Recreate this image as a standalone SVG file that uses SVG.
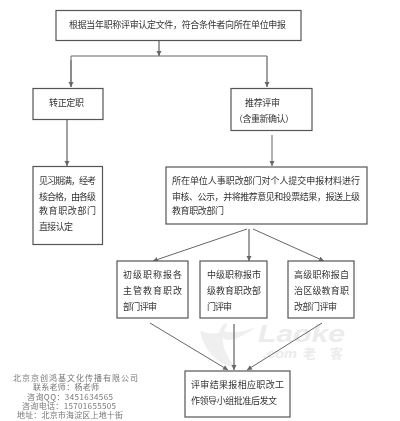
<svg xmlns="http://www.w3.org/2000/svg" width="400" height="421" viewBox="0 0 400 421">
<style>
.box{fill:#fff;stroke:#555;stroke-width:1.2}
.t{font-family:"Noto Sans CJK SC","Liberation Sans",sans-serif;font-size:9px;fill:#333}
.c{font-family:"Noto Sans CJK SC","Liberation Sans",sans-serif;font-size:8px;fill:#777}
.l{fill:none;stroke:#666;stroke-width:1}
.g{fill:none;stroke:#888;stroke-width:1.6}
.wm{font-family:"Liberation Sans",sans-serif;font-weight:bold;font-style:italic;fill:#ececec}
.wc{font-family:"Noto Sans CJK SC",sans-serif;font-weight:bold;fill:#ececec}
</style>
<defs>
<marker id="a" markerUnits="userSpaceOnUse" markerWidth="6" markerHeight="6" refX="5" refY="3" orient="auto"><path d="M0 0.5L5 3L0 5.5z" fill="#666"/></marker>
<filter id="s" x="-5%" y="-5%" width="110%" height="110%"><feGaussianBlur stdDeviation="0.3"/></filter>
</defs>
<rect width="400" height="421" fill="#fff"/>
<g id="watermark">
<path d="M200 331C204 350 216 364 236 368C226 356 222 346 223 338C230 343 240 338 256 327C244 332 232 334 224 331C226 327 228 325 226 323C222 325 220 329 219 333C212 334 206 333 200 331Z" fill="#efefef"/>
<text class="wm" x="258" y="342" font-size="24" textLength="87" lengthAdjust="spacingAndGlyphs">Laoke</text>
<text class="wm" x="263" y="358" font-size="12" textLength="34" lengthAdjust="spacingAndGlyphs">.com</text>
<text class="wc" x="303" y="358" font-size="13" textLength="40">老客</text>
</g>
<g id="connectors" filter="url(#s)">
<path class="g" d="M159 40V56" marker-end="url(#a)"/>
<path class="l" d="M71 87V56H267"/>
<path class="l" d="M71 60V87" marker-end="url(#a)"/>
<path class="g" d="M267 56V87" marker-end="url(#a)"/>
<path class="g" d="M67 119V166" marker-end="url(#a)"/>
<path class="l" d="M272 135V166" marker-end="url(#a)"/>
<path class="l" d="M247 229L153 261" marker-end="url(#a)"/>
<path class="g" d="M249 229V261" marker-end="url(#a)"/>
<path class="l" d="M253 229L324 261" marker-end="url(#a)"/>
<path class="l" d="M150 323L228 370" marker-end="url(#a)"/>
<path class="g" d="M234 324V370" marker-end="url(#a)"/>
<path class="l" d="M322 323L247 370" marker-end="url(#a)"/>
</g>
<g filter="url(#s)">
<g id="n1"><rect class="box" x="56" y="10.500" width="245" height="30"/>
<text class="t" x="69" y="28" textLength="217">根据当年职称评审认定文件，符合条件者向所在单位申报</text></g>
<g id="n2"><rect class="box" x="33" y="88.500" width="70" height="31"/>
<text class="t" x="49" y="106" textLength="35">转正定职</text></g>
<g id="n3"><rect class="box" x="231" y="88.500" width="81" height="42"/>
<text class="t" x="245" y="106" textLength="35">推荐评审</text>
<text class="t" x="234" y="122" textLength="60">（含重新确认）</text></g>
<g id="n4"><rect class="box" x="33" y="166.500" width="69.500" height="78"/>
<text class="t" x="39" y="184" textLength="57">见习期满，经考</text>
<text class="t" x="39" y="200" textLength="57">核合格，由各级</text>
<text class="t" x="39" y="214" textLength="57">教育职改部门</text>
<text class="t" x="39" y="230" textLength="34">直接认定</text></g>
<g id="n5"><rect class="box" x="166" y="167" width="201" height="57"/>
<text class="t" x="172" y="184" textLength="188">所在单位人事职改部门对个人提交申报材料进行</text>
<text class="t" x="172" y="200" textLength="188">审核、公示，并将推荐意见和投票结果，报送上级</text>
<text class="t" x="172" y="214" textLength="52">教育职改部门</text></g>
<g id="n6"><rect class="box" x="117" y="261" width="71" height="57"/>
<text class="t" x="123" y="278" textLength="59">初级职称报各</text>
<text class="t" x="123" y="294" textLength="59">主管教育职改</text>
<text class="t" x="123" y="310" textLength="34">部门评审</text></g>
<g id="n7"><rect class="box" x="200" y="261" width="67" height="57"/>
<text class="t" x="207" y="278" textLength="54">中级职称报市</text>
<text class="t" x="207" y="294" textLength="54">级教育职改部</text>
<text class="t" x="207" y="310" textLength="25">门评审</text></g>
<g id="n8"><rect class="box" x="288" y="261" width="66" height="57"/>
<text class="t" x="294" y="278" textLength="55">高级职称报自</text>
<text class="t" x="294" y="294" textLength="55">治区级教育职</text>
<text class="t" x="294" y="310" textLength="43">改部门评审</text></g>
<g id="n9"><rect class="box" x="185" y="371" width="105" height="46"/>
<text class="t" x="191" y="388" textLength="93">评审结果报相应职改工</text>
<text class="t" x="191" y="404" textLength="86">作领导小组批准后发文</text></g>
<g id="contact">
<text class="c" x="13" y="381" textLength="125">北京京创鸿基文化传播有限公司</text>
<text class="c" x="33" y="390" textLength="66">联系老师：杨老师</text>
<text class="c" x="27" y="399.500" textLength="86">咨询QQ：3451634565</text>
<text class="c" x="22" y="409" textLength="94">咨询电话：15701655505</text>
<text class="c" x="17" y="417.500" textLength="106">地址：北京市海淀区上地十街</text>
</g>
</g>
</svg>
